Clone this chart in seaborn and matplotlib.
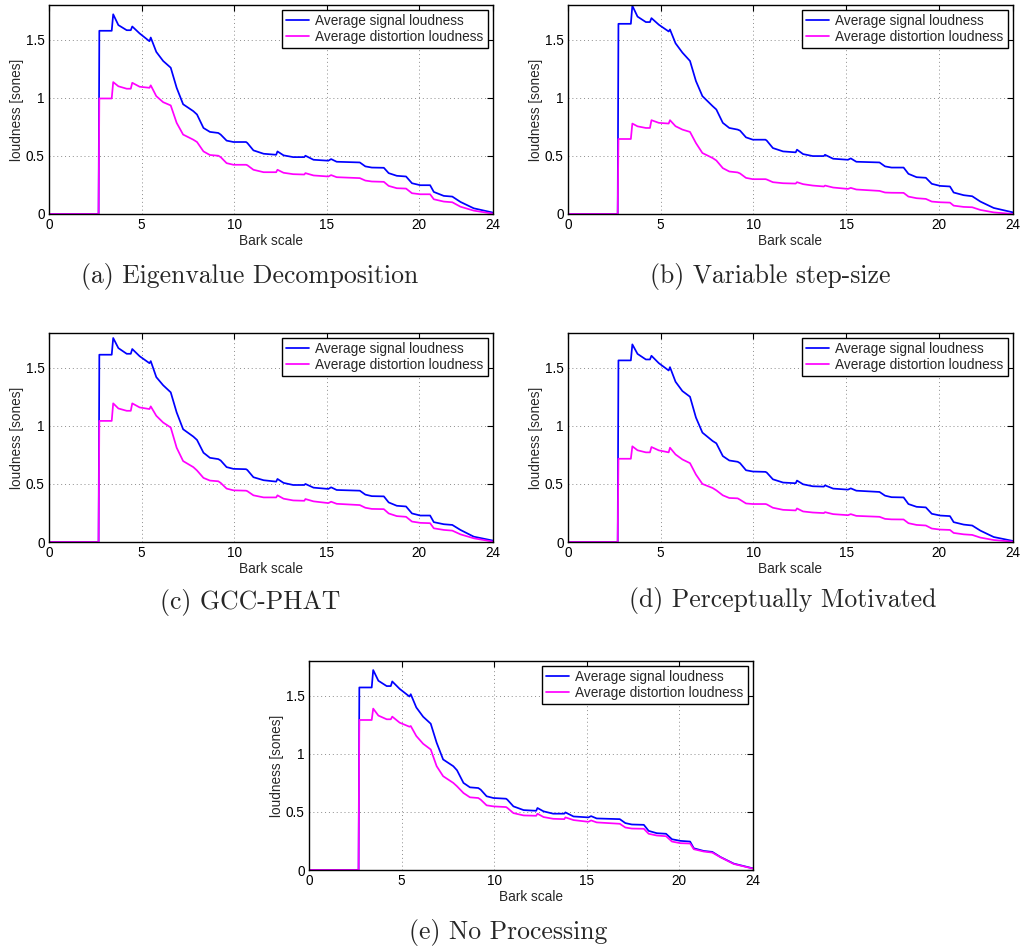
import matplotlib
matplotlib.use("Agg")
import matplotlib.pyplot as plt
import seaborn as sns
import pandas as pd

# ---------------- data ----------------
BARK = [0, 2.68, 2.72, 3.39, 3.47, 3.75, 4.2, 4.42, 4.5, 4.9, 5.43, 5.5, 5.8, 6.17, 6.58,
        6.9, 7.25, 7.8, 8.0, 8.35, 8.7, 9.15, 9.28, 9.6, 9.97, 10.65, 10.72, 11.05, 11.6,
        12.28, 12.35, 12.68, 13.2, 13.8, 13.86, 14.3, 15.1, 15.25, 15.55, 16.8, 17.1, 17.45,
        18.1, 18.36, 18.8, 19.3, 19.62, 20.07, 20.6, 20.8, 21.34, 21.8, 22.24, 22.96, 24]

SIG_A = [0, 0, 1.578, 1.578, 1.72, 1.627, 1.583, 1.583, 1.615, 1.555, 1.488, 1.52, 1.396, 1.318, 1.26,
         1.087, 0.945, 0.886, 0.857, 0.741, 0.707, 0.698, 0.684, 0.632, 0.62, 0.62, 0.612, 0.548, 0.519,
         0.51, 0.539, 0.505, 0.49, 0.49, 0.502, 0.467, 0.459, 0.473, 0.45, 0.444, 0.41, 0.40,
         0.398, 0.352, 0.329, 0.323, 0.265, 0.248, 0.248, 0.19, 0.156, 0.15, 0.104, 0.049, 0.012]
DIS_A = [0, 0, 0.995, 0.995, 1.136, 1.10, 1.079, 1.079, 1.13, 1.096, 1.087, 1.108, 1.015, 0.963, 0.935,
         0.785, 0.684, 0.64, 0.62, 0.539, 0.508, 0.502, 0.49, 0.438, 0.424, 0.424, 0.42, 0.381, 0.36,
         0.36, 0.381, 0.355, 0.343, 0.34, 0.352, 0.332, 0.323, 0.335, 0.317, 0.309, 0.288, 0.28,
         0.277, 0.242, 0.222, 0.219, 0.179, 0.17, 0.17, 0.127, 0.107, 0.101, 0.063, 0.029, 0.003]

SIG_B = [0, 0, 1.638, 1.638, 1.794, 1.70, 1.653, 1.653, 1.687, 1.63, 1.572, 1.589, 1.47, 1.39, 1.318,
         1.145, 1.015, 0.929, 0.9, 0.785, 0.741, 0.727, 0.718, 0.66, 0.64, 0.64, 0.632, 0.568, 0.539,
         0.531, 0.554, 0.516, 0.499, 0.499, 0.51, 0.476, 0.467, 0.479, 0.45, 0.444, 0.41, 0.40,
         0.40, 0.346, 0.317, 0.312, 0.26, 0.242, 0.237, 0.185, 0.162, 0.153, 0.107, 0.052, 0.014]
DIS_B = [0, 0, 0.646, 0.646, 0.779, 0.755, 0.741, 0.741, 0.808, 0.785, 0.779, 0.808, 0.756, 0.727, 0.707,
         0.611, 0.525, 0.482, 0.461, 0.395, 0.366, 0.358, 0.349, 0.311, 0.30, 0.30, 0.297, 0.274, 0.265,
         0.262, 0.274, 0.257, 0.245, 0.237, 0.245, 0.228, 0.216, 0.225, 0.211, 0.199, 0.185, 0.183,
         0.182, 0.15, 0.136, 0.13, 0.107, 0.101, 0.098, 0.072, 0.061, 0.058, 0.035, 0.014, 0.0]

SIG_C = [0, 0, 1.613, 1.613, 1.757, 1.67, 1.621, 1.621, 1.662, 1.60, 1.54, 1.558, 1.42, 1.35, 1.289,
         1.116, 0.971, 0.908, 0.879, 0.769, 0.725, 0.714, 0.702, 0.645, 0.63, 0.627, 0.62, 0.558, 0.532,
         0.52, 0.543, 0.509, 0.491, 0.491, 0.50, 0.468, 0.457, 0.471, 0.448, 0.442, 0.408, 0.395,
         0.393, 0.341, 0.312, 0.306, 0.246, 0.228, 0.228, 0.171, 0.153, 0.147, 0.104, 0.046, 0.012]
DIS_C = [0, 0, 1.043, 1.043, 1.194, 1.15, 1.13, 1.13, 1.194, 1.159, 1.145, 1.168, 1.087, 1.029, 0.986,
         0.812, 0.697, 0.645, 0.616, 0.552, 0.529, 0.523, 0.509, 0.46, 0.445, 0.442, 0.438, 0.402, 0.384,
         0.384, 0.402, 0.373, 0.358, 0.355, 0.37, 0.35, 0.335, 0.347, 0.329, 0.318, 0.295, 0.285,
         0.283, 0.246, 0.223, 0.217, 0.176, 0.165, 0.162, 0.118, 0.104, 0.098, 0.066, 0.032, 0.003]

SIG_D = [0, 0, 1.564, 1.564, 1.702, 1.62, 1.572, 1.572, 1.604, 1.54, 1.477, 1.506, 1.38, 1.30, 1.251,
         1.072, 0.942, 0.87, 0.85, 0.74, 0.702, 0.691, 0.679, 0.618, 0.607, 0.604, 0.598, 0.54, 0.512,
         0.506, 0.529, 0.497, 0.48, 0.477, 0.488, 0.46, 0.451, 0.462, 0.442, 0.431, 0.399, 0.386,
         0.384, 0.327, 0.303, 0.298, 0.243, 0.228, 0.223, 0.171, 0.15, 0.142, 0.098, 0.043, 0.009]
DIS_D = [0, 0, 0.717, 0.717, 0.824, 0.79, 0.772, 0.772, 0.818, 0.789, 0.772, 0.812, 0.754, 0.711, 0.679,
         0.581, 0.50, 0.465, 0.445, 0.402, 0.379, 0.376, 0.364, 0.332, 0.327, 0.327, 0.324, 0.295, 0.277,
         0.272, 0.289, 0.263, 0.254, 0.249, 0.257, 0.24, 0.231, 0.24, 0.225, 0.217, 0.199, 0.195,
         0.194, 0.162, 0.147, 0.142, 0.116, 0.107, 0.104, 0.078, 0.066, 0.061, 0.038, 0.017, 0.003]

SIG_E = [0, 0, 1.572, 1.572, 1.722, 1.63, 1.584, 1.584, 1.624, 1.56, 1.494, 1.514, 1.40, 1.32, 1.26,
         1.096, 0.952, 0.894, 0.859, 0.75, 0.712, 0.706, 0.692, 0.635, 0.62, 0.614, 0.606, 0.548, 0.516,
         0.51, 0.534, 0.505, 0.485, 0.485, 0.496, 0.461, 0.453, 0.464, 0.444, 0.438, 0.404, 0.392,
         0.389, 0.337, 0.317, 0.312, 0.265, 0.251, 0.245, 0.187, 0.164, 0.156, 0.112, 0.055, 0.014]
DIS_E = [0, 0, 1.292, 1.292, 1.39, 1.33, 1.298, 1.298, 1.321, 1.269, 1.234, 1.24, 1.154, 1.087, 1.038,
         0.894, 0.808, 0.75, 0.721, 0.663, 0.626, 0.62, 0.606, 0.557, 0.548, 0.542, 0.535, 0.49, 0.47,
         0.467, 0.485, 0.456, 0.441, 0.438, 0.453, 0.43, 0.415, 0.427, 0.41, 0.398, 0.366, 0.357,
         0.355, 0.312, 0.297, 0.291, 0.245, 0.231, 0.228, 0.179, 0.159, 0.15, 0.11, 0.052, 0.012]

CAPTIONS = ["(a) Eigenvalue Decomposition", "(b) Variable step-size", "(c) GCC-PHAT",
            "(d) Perceptually Motivated", "(e) No Processing"]
SERIES_LABELS = ["Average signal loudness", "Average distortion loudness"]
X_TICKS = [0, 5, 10, 15, 20, 24]
Y_TICKS = [0, 0.5, 1, 1.5]
Y_TICK_LABELS = ["0", "0.5", "1", "1.5"]

# ---------------- styling / layout ----------------
sns.set_style("white")
plt.rcParams["font.family"] = ["Liberation Sans", "DejaVu Sans"]

W, H = 1023, 951
fig = plt.figure(figsize=(W / 100, H / 100), dpi=100)

# (left, top, right, bottom) in pixels; caption centre (x, y) in pixels
boxes = [(49, 5, 493, 214), (568, 5, 1013, 214), (49, 333, 493, 542),
         (568, 333, 1013, 542), (309, 661, 753, 870)]
cap_pos = [(250, 276), (770, 276), (250, 603), (783, 601), (508, 932)]
series = [(SIG_A, DIS_A), (SIG_B, DIS_B), (SIG_C, DIS_C), (SIG_D, DIS_D), (SIG_E, DIS_E)]

FS = 9.8
for (l, t, r, b), (sig, dis), cap, (cx, cy) in zip(boxes, series, CAPTIONS, cap_pos):
    ax = fig.add_axes([l / W, 1 - b / H, (r - l) / W, (b - t) / H])
    df = pd.DataFrame({"bark": BARK * 2,
                       "loudness": list(sig) + list(dis),
                       "series": [SERIES_LABELS[0]] * len(BARK) + [SERIES_LABELS[1]] * len(BARK)})
    sns.lineplot(data=df, x="bark", y="loudness", hue="series",
                 palette={SERIES_LABELS[0]: (0, 0, 1), SERIES_LABELS[1]: (1, 0, 1)},
                 estimator=None, sort=False, lw=1.25, ax=ax)
    ax.set_xlim(0, 24)
    ax.set_ylim(0, 1.8)
    ax.set_xticks(X_TICKS)
    ax.set_xticklabels([str(v) for v in X_TICKS])
    ax.set_yticks(Y_TICKS)
    ax.set_yticklabels(Y_TICK_LABELS)
    ax.grid(True, linestyle=(0, (1, 3)), color="0.55", lw=0.7)
    ax.tick_params(direction="in", top=True, right=True, length=4, width=0.8,
                   labelsize=FS, pad=3, colors="black")
    for s in ax.spines.values():
        s.set_visible(True)
        s.set_color("black")
        s.set_linewidth(1.0)
    ax.set_xlabel("Bark scale", fontsize=FS, labelpad=1.5)
    ax.set_ylabel("loudness [sones]", fontsize=FS, labelpad=1.5)
    leg = ax.legend(loc="upper right", fontsize=FS, frameon=True, fancybox=False,
                    edgecolor="black", framealpha=1, borderaxespad=0.4, handlelength=1.75,
                    handletextpad=0.45, labelspacing=0.12, borderpad=0.28, title=None)
    leg.get_frame().set_linewidth(1.0)
    fig.text(cx / W, 1 - cy / H, cap, ha="center", va="center",
             fontfamily="cmr10", fontsize=18.5)

fig.savefig("out.png", dpi=100)
